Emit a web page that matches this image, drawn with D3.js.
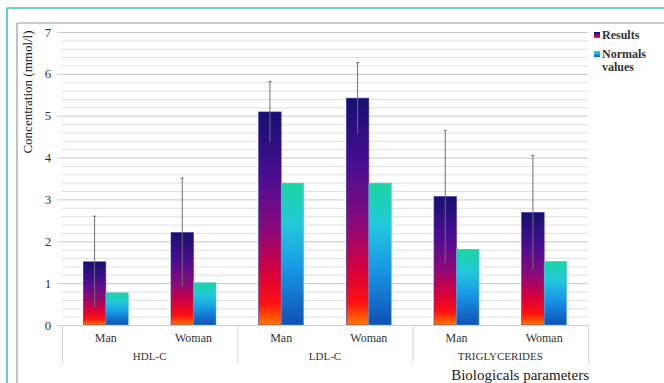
<!DOCTYPE html>
<html lang="en">
<head>
<meta charset="UTF-8">
<title>Concentration by biological parameter</title>
<script src="https://d3js.org/d3.v7.min.js"></script>
<style>
    body { margin: 0; background: #fff; }
    svg { display: block; }
    svg text { font-family: 'Liberation Serif', 'Times New Roman', 'DejaVu Serif', serif; }
</style>
</head>
<body>
<svg id="chart" width="664" height="383"></svg>
<script>
// data
const groups = ["HDL-C", "LDL-C", "TRIGLYCERIDES"];
const sexes = ["Man", "Woman"];
const results = [1.51, 2.21, 5.09, 5.42, 3.07, 2.69];
const resultsSD = [1.09, 1.30, 0.73, 0.85, 1.58, 1.36];
const normals = [0.77, 1.01, 3.39, 3.39, 1.81, 1.52];
const yTicks = [0, 1, 2, 3, 4, 5, 6, 7];

const serif = "Liberation Serif, Times New Roman, DejaVu Serif, serif";
const svg = d3.select("#chart").attr("font-family", serif);
const plotL = 62, plotR = 588, plotT = 32, plotB = 325;

// outer frames
svg.append("line").attr("x1", 7).attr("x2", 7).attr("y1", 8).attr("y2", 383)
    .attr("stroke", "#2ec4a8").attr("stroke-width", 1.5);
svg.append("line").attr("x1", 7).attr("x2", 664).attr("y1", 8).attr("y2", 8)
    .attr("stroke", "#2ec4a8").attr("stroke-width", 1.5);
svg.append("line").attr("x1", 17).attr("x2", 17).attr("y1", 23).attr("y2", 383)
    .attr("stroke", "#9a9a9a").attr("stroke-width", 1.2);
svg.append("line").attr("x1", 17).attr("x2", 664).attr("y1", 23).attr("y2", 23)
    .attr("stroke", "#9a9a9a").attr("stroke-width", 1.2);

const y = d3.scaleLinear().domain([0, 7]).range([plotB, plotT]);
const xGroup = d3.scaleBand().domain(groups).range([plotL, plotR]);
const xSub = d3.scaleBand().domain(sexes).range([0, xGroup.bandwidth()]);
const barW = 22.5;

// gridlines: minor every 0.2, major every 1
const minor = d3.range(0, 7.001, 0.2).map(v => +v.toFixed(1));
svg.append("g").selectAll("line").data(minor).join("line")
    .attr("x1", plotL).attr("x2", plotR)
    .attr("y1", d => y(d) + 0.5).attr("y2", d => y(d) + 0.5)
    .attr("stroke", d => Number.isInteger(d) ? "#c8c8c8" : "#e0e0e0")
    .attr("stroke-width", 1);

// y axis labels and ticks
const yAxis = svg.append("g");
yAxis.selectAll("line").data(yTicks).join("line")
    .attr("x1", plotL - 5).attr("x2", plotL)
    .attr("y1", d => y(d) + 0.5).attr("y2", d => y(d) + 0.5)
    .attr("stroke", "#cfcfcf");
yAxis.selectAll("text").data(yTicks).join("text")
    .attr("x", 48).attr("y", d => y(d) + 4.5)
    .attr("text-anchor", "middle").attr("font-size", 13).attr("fill", "#333")
    .text(d => d);

svg.append("text")
    .attr("transform", "translate(32,92) rotate(-90)")
    .attr("text-anchor", "middle").attr("font-size", 13).attr("fill", "#111")
    .text("Concentration (mmol/l)");

// gradients
const defs = svg.append("defs");
function grad(id, stops) {
    const g = defs.append("linearGradient").attr("id", id)
        .attr("x1", 0).attr("x2", 0).attr("y1", 0).attr("y2", 1);
    stops.forEach(s => g.append("stop").attr("offset", s[0]).attr("stop-color", s[1]));
}
grad("gRes", [[0, "#151070"], [0.3, "#4a0d92"], [0.55, "#8a0a7a"], [0.75, "#d6003e"], [0.9, "#ff1010"], [1, "#ff7a00"]]);
grad("gNorm", [[0, "#1ad6a0"], [0.3, "#22c8dc"], [0.6, "#1898e6"], [1, "#1050b4"]]);

// flatten data rows
const rows = [];
groups.forEach((g, gi) => sexes.forEach((s, si) => {
    const i = gi * 2 + si;
    rows.push({ g, s, res: results[i], sd: resultsSD[i], norm: normals[i] });
}));
const cx = d => xGroup(d.g) + xSub(d.s) + xSub.bandwidth() / 2;

const bars = svg.append("g");
bars.selectAll("rect.res").data(rows).join("rect").attr("class", "res")
    .attr("x", d => cx(d) - barW).attr("width", barW)
    .attr("y", d => y(d.res)).attr("height", d => y(0) - y(d.res))
    .attr("fill", "url(#gRes)").attr("stroke", "#3a3aa0").attr("stroke-width", 0.6);
bars.selectAll("rect.norm").data(rows).join("rect").attr("class", "norm")
    .attr("x", d => cx(d)).attr("width", barW)
    .attr("y", d => y(d.norm)).attr("height", d => y(0) - y(d.norm))
    .attr("fill", "url(#gNorm)").attr("stroke", "#5ab8e0").attr("stroke-width", 0.5);

// error bars on results
const err = svg.append("g").attr("stroke", "#6e6e6e").attr("stroke-width", 1);
err.selectAll("line.v").data(rows).join("line").attr("class", "v")
    .attr("x1", d => cx(d) - barW / 2).attr("x2", d => cx(d) - barW / 2)
    .attr("y1", d => y(d.res + d.sd)).attr("y2", d => y(d.res - d.sd));
err.selectAll("line.c").data(rows).join("line").attr("class", "c")
    .attr("x1", d => cx(d) - barW / 2 - 1.5).attr("x2", d => cx(d) - barW / 2 + 1.5)
    .attr("y1", d => y(d.res + d.sd)).attr("y2", d => y(d.res + d.sd));

// category axis
const xa = svg.append("g");
xa.append("line").attr("x1", plotL).attr("x2", plotR).attr("y1", plotB + 0.5).attr("y2", plotB + 0.5)
    .attr("stroke", "#cfcfcf");
xa.selectAll("line.div").data([plotL, ...groups.map(g => xGroup(g) + xGroup.bandwidth())]).join("line")
    .attr("class", "div")
    .attr("x1", d => d + 0.5).attr("x2", d => d + 0.5)
    .attr("y1", plotB).attr("y2", 363)
    .attr("stroke", "#d4d4d4");
xa.selectAll("text.sub").data(rows).join("text").attr("class", "sub")
    .attr("x", d => cx(d)).attr("y", 342)
    .attr("text-anchor", "middle").attr("font-size", 12).attr("fill", "#333")
    .text(d => d.s);
xa.selectAll("text.grp").data(groups).join("text").attr("class", "grp")
    .attr("x", d => xGroup(d) + xGroup.bandwidth() / 2).attr("y", 360)
    .attr("text-anchor", "middle").attr("font-size", 11).attr("fill", "#333")
    .text(d => d);

svg.append("text").attr("x", 589).attr("y", 380)
    .attr("text-anchor", "end").attr("font-size", 15).attr("fill", "#222")
    .text("Biologicals parameters");

// legend
const legend = svg.append("g").attr("font-size", 12).attr("font-weight", "bold").attr("fill", "#333");
legend.append("rect").attr("x", 594).attr("y", 32).attr("width", 6).attr("height", 6).attr("fill", "url(#gRes)");
legend.append("text").attr("x", 602).attr("y", 39).text("Results");
legend.append("rect").attr("x", 594).attr("y", 51).attr("width", 6).attr("height", 6).attr("fill", "url(#gNorm)");
legend.append("text").attr("x", 602).attr("y", 58).text("Normals");
legend.append("text").attr("x", 602).attr("y", 71).text("values");
</script>
</body>
</html>
